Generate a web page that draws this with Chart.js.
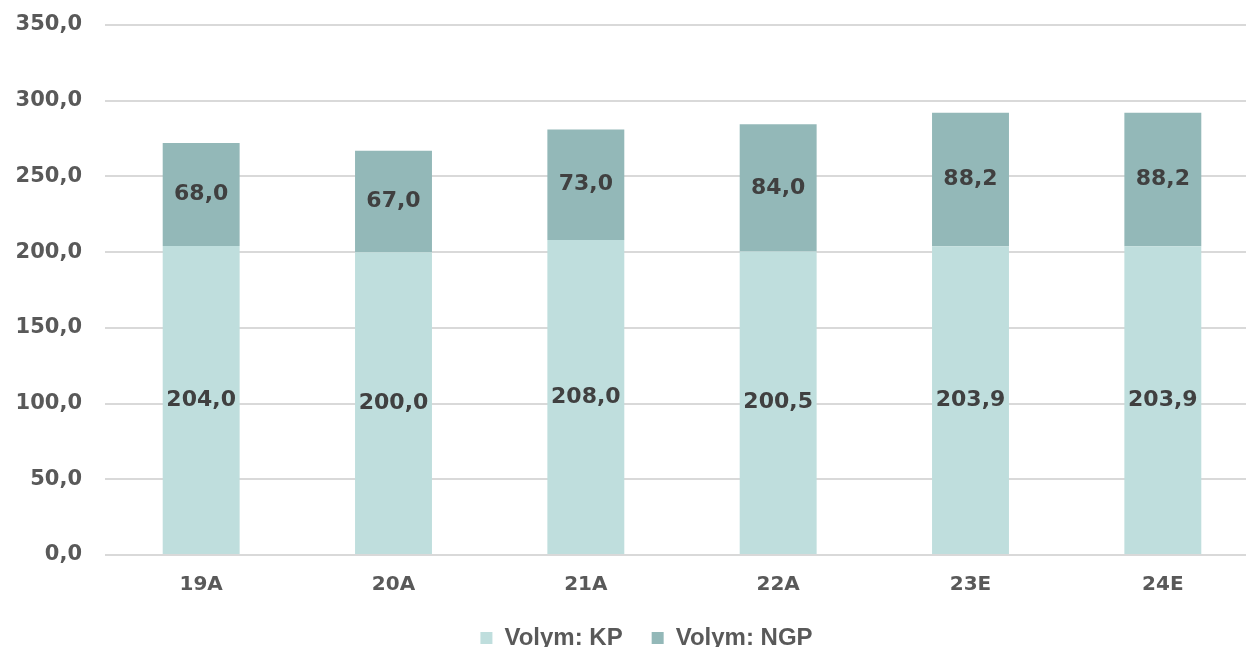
<!DOCTYPE html>
<html>
<head>
<meta charset="utf-8">
<script src="https://cdn.jsdelivr.net/npm/chart.js@4/dist/chart.umd.min.js"></script>
<style>
  html, body { margin: 0; padding: 0; background: #fff; overflow: hidden; width: 1246px; height: 647px; }
  #wrap { position: relative; width: 1357px; height: 665px; }
</style>
</head>
<body>
<div id="wrap"><canvas id="c" width="1357" height="665"></canvas></div>
<script>
// Volumes per year (A = actual, E = estimate)
const categories = ['19A', '20A', '21A', '22A', '23E', '24E'];
const volymKP = [204.0, 200.0, 208.0, 200.5, 203.9, 203.9];
const volymNGP = [68.0, 67.0, 73.0, 84.0, 88.2, 88.2];
const seriesNames = ['Volym: KP', 'Volym: NGP'];
const yTicks = [0, 50, 100, 150, 200, 250, 300, 350];

const fmt = v => v.toFixed(1).replace('.', ',');

// Value written in the middle of each stacked segment
const segmentLabels = {
  id: 'segmentLabels',
  afterDatasetsDraw(chart) {
    const ctx = chart.ctx;
    ctx.save();
    ctx.font = 'bold 22px "DejaVu Sans"';
    ctx.fillStyle = '#404040';
    ctx.textAlign = 'center';
    ctx.textBaseline = 'middle';
    chart.data.datasets.forEach((ds, i) => {
      chart.getDatasetMeta(i).data.forEach((el, j) => {
        ctx.fillText(fmt(ds.data[j]), el.x, (el.y + el.base) / 2);
      });
    });
    ctx.restore();
  }
};

// Nudge the legend so it sits centred under the plot area
const legendOffset = {
  id: 'legendOffset',
  afterLayout(chart) {
    const lg = chart.legend;
    if (!lg) return;
    lg.left += 17; lg.right += 17;
    lg.top -= 5; lg.bottom -= 5;
  }
};

new Chart(document.getElementById('c'), {
  type: 'bar',
  data: {
    labels: categories,
    datasets: [
      { label: seriesNames[0], data: volymKP, backgroundColor: '#BFDEDD' },
      { label: seriesNames[1], data: volymNGP, backgroundColor: '#93B8B8' }
    ]
  },
  options: {
    responsive: false,
    animation: false,
    devicePixelRatio: 1,
    layout: { padding: { top: 25, right: 98, left: 0, bottom: 0 } },
    datasets: { bar: { categoryPercentage: 0.8, barPercentage: 0.5 } },
    scales: {
      x: {
        stacked: true,
        grid: { display: false },
        border: { display: false },
        ticks: { color: '#595959', font: { family: 'DejaVu Sans', weight: 'bold', size: 20 }, padding: 10 },
        afterFit: s => { s.height = 47; s.paddingLeft = 0; s.paddingRight = 0; }
      },
      y: {
        stacked: true,
        min: 0,
        max: 350,
        afterBuildTicks: s => { s.ticks = yTicks.map(v => ({ value: v })); },
        grid: { color: '#D9D9D9', lineWidth: 2, drawTicks: false },
        border: { display: false },
        ticks: {
          color: '#595959',
          font: { family: 'DejaVu Sans', weight: 'bold', size: 21 },
          padding: 23,
          callback: v => fmt(v)
        },
        afterFit: s => { s.width = 105; s.paddingTop = 0; s.paddingBottom = 0; }
      }
    },
    plugins: {
      tooltip: { enabled: false },
      legend: {
        position: 'bottom',
        labels: {
          color: '#595959',
          font: { family: 'Liberation Sans', weight: 'bold', size: 24 },
          boxWidth: 12,
          boxHeight: 12,
          padding: 29
        }
      }
    }
  },
  plugins: [segmentLabels, legendOffset]
});
</script>
</body>
</html>
